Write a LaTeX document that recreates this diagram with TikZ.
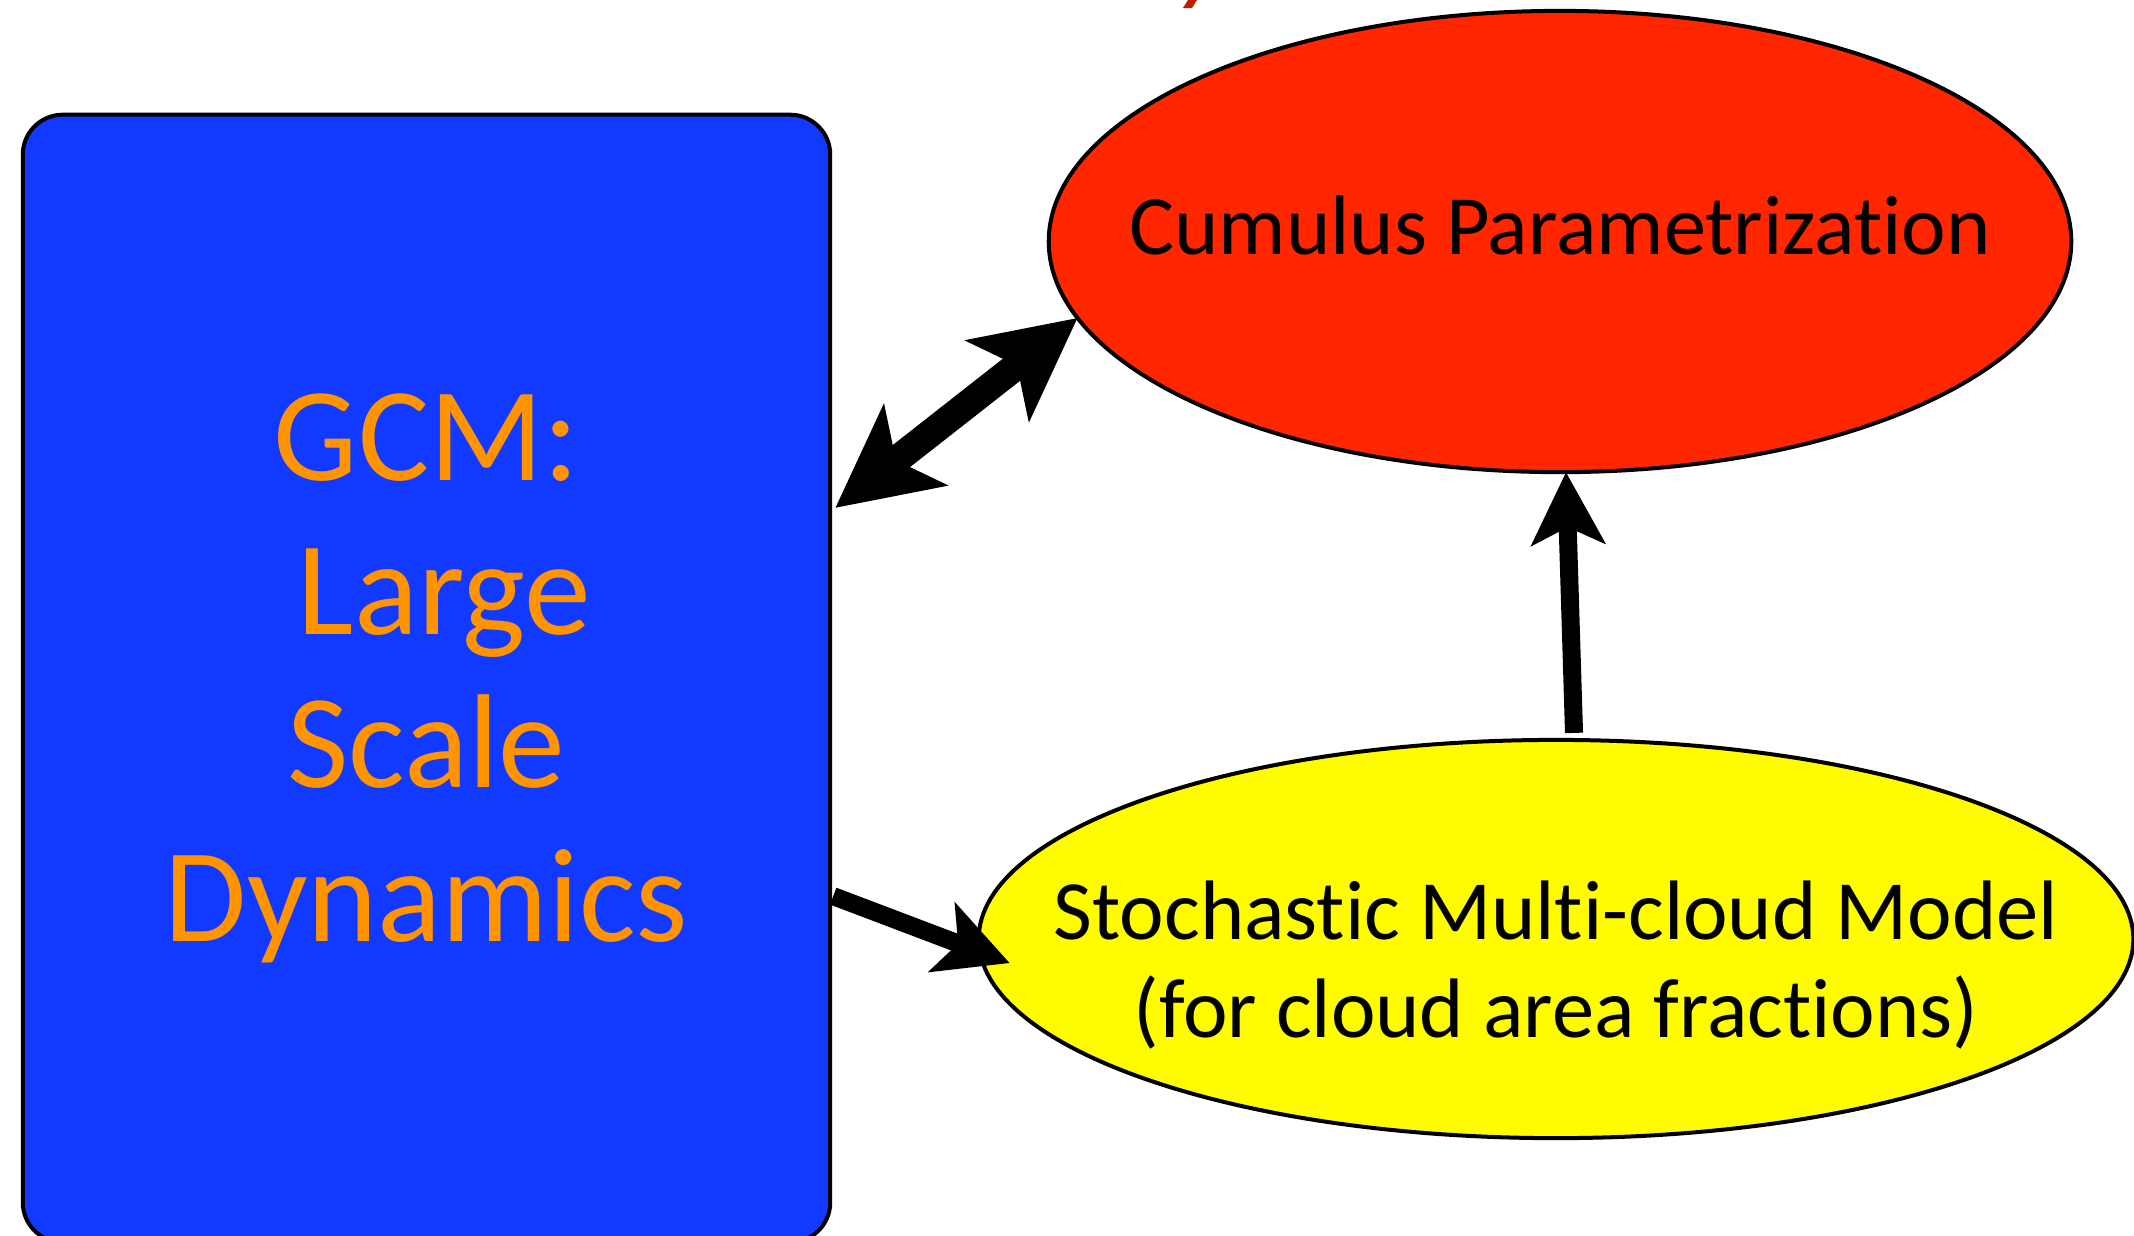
\documentclass[tikz,border=0pt]{standalone}
\usepackage{fontspec}
\setmainfont{Carlito}[Ligatures={NoCommon,NoRare,NoDiscretionary}]
\usetikzlibrary{arrows.meta,shapes.geometric}
\definecolor{gcmblue}{RGB}{18,57,255}
\definecolor{gcmorange}{RGB}{255,147,0}
\definecolor{cumred}{RGB}{255,38,0}
\definecolor{stochyellow}{RGB}{255,251,0}
\definecolor{titlered}{RGB}{192,26,0}
\tikzset{
	smallhead/.tip={Stealth[length=0.72cm,width=0.73cm,inset=0.17cm]},
	largehead/.tip={Stealth[length=1.01cm,width=1.01cm,inset=0.24cm]},
	gcmbox/.style={draw=black, line width=0.04cm, fill=gcmblue, rounded corners=0.4cm,
		inner sep=0pt, outer sep=0pt, text=gcmorange, align=center,
		font=\fontsize{38}{43.7}\selectfont},
	cloud/.style={ellipse, draw=black, line width=0.04cm, inner sep=0pt, outer sep=0pt},
	cloudtext/.style={align=center, font=\fontsize{24}{27.6}\selectfont},
	thinarrow/.style={line width=0.18cm, -smallhead},
	thickarrow/.style={line width=0.28cm, largehead-largehead},
}
\begin{document}
\begin{tikzpicture}[x=0.01cm, y=-0.01cm]
		%%%%% START %%%%%
		\useasboundingbox (0,0) rectangle (2134,1235);
		
		% bit of the title, cut off above
		\fill[titlered] (1183,8) -- (1192,8) -- (1197,0) -- (1188,0) -- cycle;
		
		\node[gcmbox, minimum width=8.07cm, minimum height=11.27cm] (gcm) at (426.5,678.5)
			{GCM:\\ \hspace*{0.27em}Large\\ Scale\\ Dynamics};
		
		\node[cloud, fill=cumred, minimum width=10.22cm, minimum height=4.61cm] (cumulus) at (1560,241.5) {};
		\node[cloudtext, anchor=base] (cumulustext) at ([yshift=-0.125cm]cumulus.center) {Cumulus Parametrization};
		
		\node[cloud, fill=stochyellow, minimum width=11.54cm, minimum height=3.98cm] (stochastic) at (1556,939) {};
		\node[cloudtext] (stochastictext) at ([yshift=-0.26cm]stochastic.center)
			{Stochastic Multi-cloud Model\\ (for cloud area fractions)};
		
		\draw[thickarrow] ([shift={(0.05cm,1.705cm)}]gcm.east) -- (cumulus.189.7);
		\draw[thinarrow] ([shift={(0.03cm,-2.175cm)}]gcm.east) -- ([shift={(0.31cm,-0.24cm)}]stochastic.west);
		\draw[thinarrow] ([shift={(0.18cm,0.07cm)}]stochastic.north) -- ([xshift=0.06cm]cumulus.south);
		
		%%%%% END %%%%%
	\end{tikzpicture}
\end{document}
